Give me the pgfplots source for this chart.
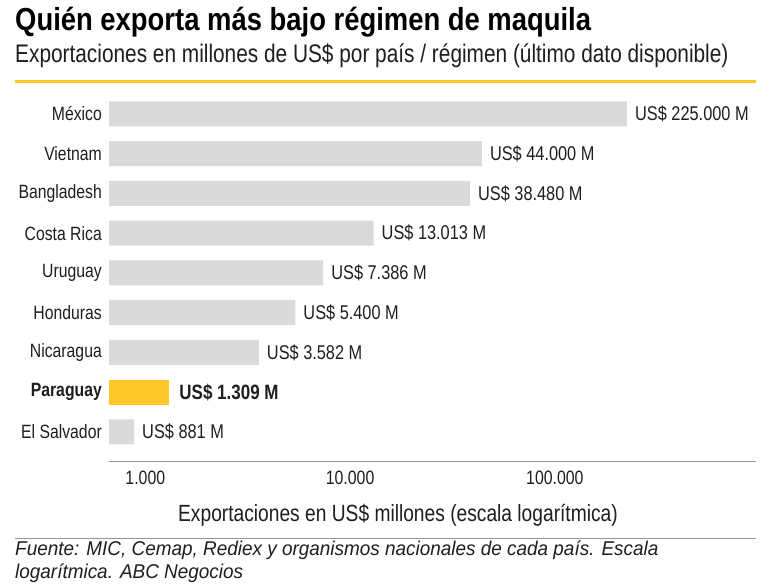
\documentclass[border=0pt]{standalone}
\usepackage{fontspec}
\usepackage{pgfplots}
\pgfplotsset{compat=1.18}
\setmainfont{Liberation Sans}[FakeStretch=0.82]
\newfontfamily\titlefont{Liberation Sans}[FakeStretch=0.86]
\newfontfamily\notefont{Liberation Sans}[FakeStretch=0.95]
\definecolor{barGray}{RGB}{218,218,218}
\definecolor{gold}{RGB}{255,199,40}
\definecolor{txt}{RGB}{30,30,30}
\definecolor{rule}{RGB}{150,150,150}

\begin{document}
\begin{tikzpicture}[x=1bp,y=1bp]
\useasboundingbox (0,0) rectangle (770,587);

% title block
\node[anchor=base west, inner sep=0, text=black] at (15,556)
  {\titlefont\bfseries\fontsize{32}{32}\selectfont Quién exporta más bajo régimen de maquila};
\node[anchor=base west, inner sep=0, text=txt] at (15,524)
  {\fontsize{25.5}{25.5}\selectfont Exportaciones en millones de US\$ por país / régimen (último dato disponible)};
\draw[gold, line width=3bp] (15,505) -- (756,505);

\begin{axis}[
  at={(109bp,125bp)}, anchor=south west,
  scale only axis, width=647bp, height=372bp,
  xmode=log, log origin x=infty,
  xmin=665, xmax=960000,
  ymin=-0.755, ymax=8.6,
  axis x line=bottom, axis y line=left,
  x axis line style={draw=rule, line width=1bp, -},
  y axis line style={draw=none},
  tick style={draw=none}, major tick length=0pt,
  minor x tick num=0, xminorticks=false,
  xtick={1000,10000,100000},
  xticklabels={1.000,10.000,100.000},
  xticklabel style={inner sep=0pt, anchor=north, yshift=-9bp,
    font=\fontsize{19.4}{19.4}\selectfont, text=txt},
  ytick={0,...,8},
  yticklabels={El Salvador,\textbf{Paraguay},Nicaragua,Honduras,Uruguay,Costa Rica,Bangladesh,Vietnam,México},
  yticklabel style={inner sep=0pt, anchor=east, xshift=-7bp,
    font=\fontsize{19.3}{19.3}\selectfont, text=txt},
  xbar, bar width=25bp, bar shift=0pt,
  point meta=explicit symbolic,
  nodes near coords,
  every node near coord/.append style={anchor=west, inner sep=0pt, xshift=8bp,
    font=\fontsize{20}{20}\selectfont, text=txt},
  clip=false,
]
\addplot[fill=barGray, draw=none] coordinates {
  (881,0)    [US\$ 881 M]
  (3582,2)   [US\$ 3.582 M]
  (5400,3)   [US\$ 5.400 M]
  (7386,4)   [US\$ 7.386 M]
  (13013,5)  [US\$ 13.013 M]
  (38480,6)  [US\$ 38.480 M]
  (44000,7)  [US\$ 44.000 M]
  (225000,8) [US\$ 225.000 M]
};
\addplot[fill=gold, draw=none,
  every node near coord/.append style={xshift=2bp, font=\fontsize{20.8}{20.8}\selectfont\bfseries}]
  coordinates {(1309,1) [US\$ 1.309 M]};
\end{axis}

\node[anchor=base, inner sep=0, text=txt] at (398,65)
  {\fontsize{23.5}{23.5}\selectfont Exportaciones en US\$ millones (escala logarítmica)};
\draw[rule, line width=1bp] (15,48) -- (756,48);
\node[anchor=base west, inner sep=0, text=txt] at (15,31)
  {\notefont\fontsize{20}{20}\selectfont\itshape Fuente: MIC, Cemap, Rediex y organismos nacionales de cada país. Escala};
\node[anchor=base west, inner sep=0, text=txt] at (15,8)
  {\notefont\fontsize{20}{20}\selectfont\itshape logarítmica. ABC Negocios};
\end{tikzpicture}
\end{document}
